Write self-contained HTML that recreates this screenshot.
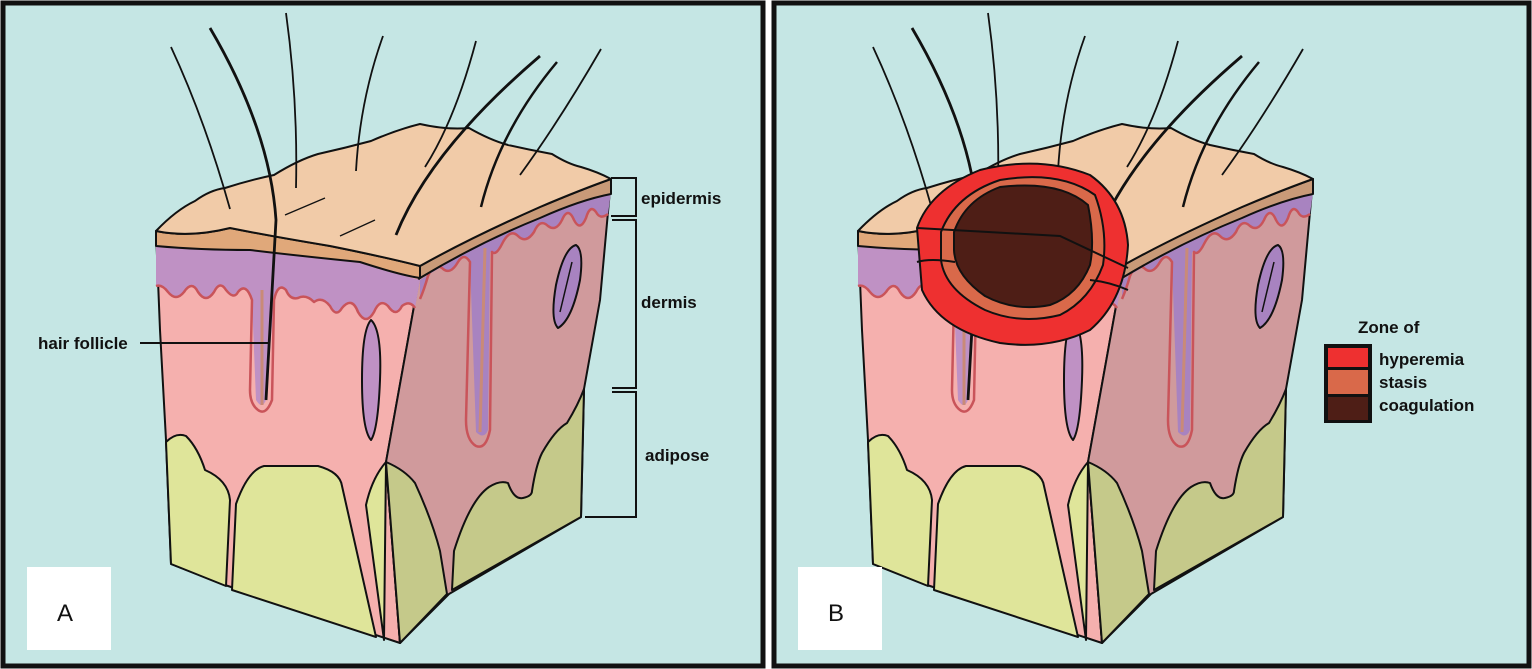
<!DOCTYPE html>
<html><head><meta charset="utf-8"><style>
html,body{margin:0;padding:0;background:#fff;}
svg{display:block;}
text{font-family:"Liberation Sans",Arial,sans-serif;font-weight:bold;fill:#111;}
</style></head><body>
<svg width="1532" height="669" viewBox="0 0 1532 669" xmlns="http://www.w3.org/2000/svg">
<rect x="0" y="0" width="1532" height="669" fill="#fff"/>
<rect x="3" y="3" width="760" height="663" fill="#c5e6e4" stroke="#111" stroke-width="5"/>
<rect x="774" y="3" width="755" height="663" fill="#c5e6e4" stroke="#111" stroke-width="5"/>
<defs>
<g id="cube" stroke="#111" stroke-width="2" stroke-linejoin="round">
  <path d="M156,231 L160,330 L166,440 L171,564 L225,585 L400,643 L386,462 L420,273 L380,256 L330,246 L270,236 L230,228 L190,236 Z" fill="#f5b0ae"/>
  <path d="M420,273 L470,238 L540,207 L611,179 L600,300 L584,389 L581,517 L449,594 L400,643 L386,462 Z" fill="#d09a9c"/>
  <path d="M166,442 Q176,432 186,436 Q198,448 205,470 Q228,480 230,500 L226,586 L171,564 Z" fill="#dfe59a"/>
  <path d="M232,590 L236,504 Q248,470 264,466 L318,466 Q340,472 342,486 L376,637 Z" fill="#dfe59a"/>
  <path d="M384,640 L366,505 Q372,478 386,462 Z" fill="#dfe59a"/>
  <path d="M386,462 Q405,470 415,483 Q432,520 440,551 L447,594 L400,643 Z" fill="#c5c98a"/>
  <path d="M452,590 L454,551 Q470,500 489,487 Q500,480 508,483 Q514,500 523,498 Q532,496 532,491 Q536,465 542,453 Q555,430 567,423 Q578,405 584,389 L581,517 Z" fill="#c5c98a"/>
  <!-- purple front -->
  <path d="M156,244 Q200,250 250,250 Q300,256 360,262 Q400,275 420,280 L415,308 Q410,300 402,306 Q396,318 388,306 Q380,298 374,312 Q366,326 358,312 Q352,296 342,308 Q336,318 330,306 Q322,296 314,302 Q306,294 298,298 Q290,300 286,290 Q278,282 274,300 L266,400 Q262,410 256,400 L252,300 Q246,282 238,292 Q234,300 226,290 Q220,280 214,292 Q206,304 198,292 Q192,280 184,292 Q176,302 168,292 Q162,284 156,286 Z" fill="#bf91c4" stroke="none"/>
  <path d="M415,308 Q410,300 402,306 Q396,318 388,306 Q380,298 374,312 Q366,326 358,312 Q352,296 342,308 Q336,318 330,306 Q322,296 314,302 Q306,294 298,298 Q290,300 286,290 Q278,282 274,300 L272,400 Q266,416 258,410 Q250,404 250,390 L252,300 Q246,282 238,292 Q234,300 226,290 Q220,280 214,292 Q206,304 198,292 Q192,280 184,292 Q176,302 168,292 Q162,284 156,286" fill="none" stroke="#c9545a" stroke-width="2.5"/>
  <!-- purple right -->
  <path d="M420,280 Q480,242 540,218 Q580,200 611,192 L608,214 Q600,220 596,212 Q590,204 586,218 Q580,232 574,220 Q568,206 562,220 Q556,232 548,226 Q540,218 534,232 Q526,244 518,236 Q510,228 502,244 Q496,256 490,252 L488,430 Q484,440 476,432 L470,262 Q464,252 458,262 Q450,276 442,268 Q434,262 428,276 Q424,290 420,299 Z" fill="#a883c0" stroke="none"/>
  <path d="M608,214 Q600,220 596,212 Q590,204 586,218 Q580,232 574,220 Q568,206 562,220 Q556,232 548,226 Q540,218 534,232 Q526,244 518,236 Q510,228 502,244 Q496,256 492,252 L490,430 Q486,450 476,446 Q466,440 466,420 L470,262 Q464,252 458,262 Q450,276 442,268 Q434,262 428,276 Q424,290 420,299" fill="none" stroke="#c9545a" stroke-width="2.5"/>
  <path d="M262,290 L262,405" fill="none" stroke="#c98a78" stroke-width="3"/>
  <path d="M371,320 Q382,330 380,380 Q378,430 371,440 Q362,430 362,380 Q362,330 371,320 Z" fill="#bf91c4"/>
  <path d="M485,248 L480,432" fill="none" stroke="#c98a78" stroke-width="3"/>
  <path d="M576,245 Q584,250 580,280 Q572,320 558,328 Q550,320 556,285 Q564,248 576,245 Z" fill="#a883c0"/>
  <path d="M572,262 L560,312" fill="none" stroke="#111" stroke-width="1.5"/>
  <path d="M156,231 Q190,238 230,228 Q270,236 330,246 Q380,256 420,266 L420,278 Q400,275 360,262 Q300,256 250,250 Q200,250 156,246 Z" fill="#e0a87a"/>
  <path d="M420,266 Q470,238 540,207 Q580,190 611,179 L611,194 Q580,200 540,218 Q480,242 420,278 Z" fill="#c99a78"/>
  <path d="M156,231 Q176,210 195,201 Q210,190 225,188 Q250,180 274,175 Q298,160 318,154 Q345,148 371,141 Q396,130 420,124 Q446,130 469,128 Q490,140 508,145 Q530,150 552,154 Q568,164 581,167 Q598,172 611,179 Q580,190 540,207 Q470,238 420,266 Q380,256 330,246 Q270,236 230,228 Q190,238 156,231 Z" fill="#f1cba8"/>
  <path d="M285,215 L325,198" fill="none" stroke-width="1.3"/>
  <path d="M340,236 L375,220" fill="none" stroke-width="1.3"/>
  <g fill="none" stroke-width="1.8">
    <path d="M171,47 Q205,120 230,209"/>
    <path d="M210,28 Q270,130 276,220 L266,400" stroke-width="2.8"/>
    <path d="M286,13 Q298,100 296,188"/>
    <path d="M383,36 Q360,100 356,171"/>
    <path d="M476,41 Q455,120 425,167"/>
    <path d="M540,56 Q430,150 396,235" stroke-width="2.8"/>
    <path d="M557,62 Q500,130 481,207" stroke-width="2.5"/>
    <path d="M601,49 Q560,120 520,175"/>
  </g>
</g>
</defs>
<use href="#cube"/>
<use href="#cube" transform="translate(702,0)"/>
<g stroke="#111" stroke-width="2" fill="none">
  <path d="M611,178 H636 V216 H611"/>
  <path d="M612,220 H636 V388 H612"/>
  <path d="M612,392 H636 V517 H585"/>
  <path d="M140,343 H268"/>
</g>
<text x="641" y="204" font-size="17">epidermis</text>
<text x="641" y="308" font-size="17">dermis</text>
<text x="645" y="461" font-size="17">adipose</text>
<text x="38" y="349" font-size="17">hair follicle</text>
<rect x="27" y="567" width="84" height="83" fill="#fff"/>
<text x="57" y="621" font-size="24" style="font-weight:normal">A</text>
<rect x="798" y="567" width="84" height="83" fill="#fff"/>
<text x="828" y="621" font-size="24" style="font-weight:normal">B</text>
<g stroke="#111" stroke-width="2">
  <path d="M917,228 Q930,190 980,170 Q1040,155 1090,175 Q1125,200 1128,245 Q1125,300 1090,330 Q1050,350 1000,343 Q940,330 922,290 Z" fill="#ee3030"/>
  <path d="M941,232 Q955,195 1000,180 Q1060,170 1095,195 Q1108,230 1103,265 Q1090,300 1060,315 Q1020,325 985,310 Q945,290 941,260 Z" fill="#d9694a"/>
  <path d="M954,232 Q965,200 1000,187 Q1060,180 1088,205 Q1095,240 1090,265 Q1078,295 1050,305 Q1015,312 985,296 Q955,275 954,250 Z" fill="#4e1e16"/>
  <path d="M917,228 L1060,236 L1128,268" fill="none"/>
  <path d="M917,262 Q930,258 955,262 M1090,280 Q1110,282 1128,290" fill="none"/>
</g>
<text x="1358" y="333" font-size="17">Zone of</text>
<rect x="1324" y="344" width="48" height="79" fill="#111"/>
<rect x="1328" y="348" width="40" height="19" fill="#ee3030"/>
<rect x="1328" y="370" width="40" height="24" fill="#d9694a"/>
<rect x="1328" y="397" width="40" height="23" fill="#4e1e16"/>
<text x="1379" y="365" font-size="17">hyperemia</text>
<text x="1379" y="388" font-size="17">stasis</text>
<text x="1379" y="411" font-size="17">coagulation</text>
</svg>
</body></html>
